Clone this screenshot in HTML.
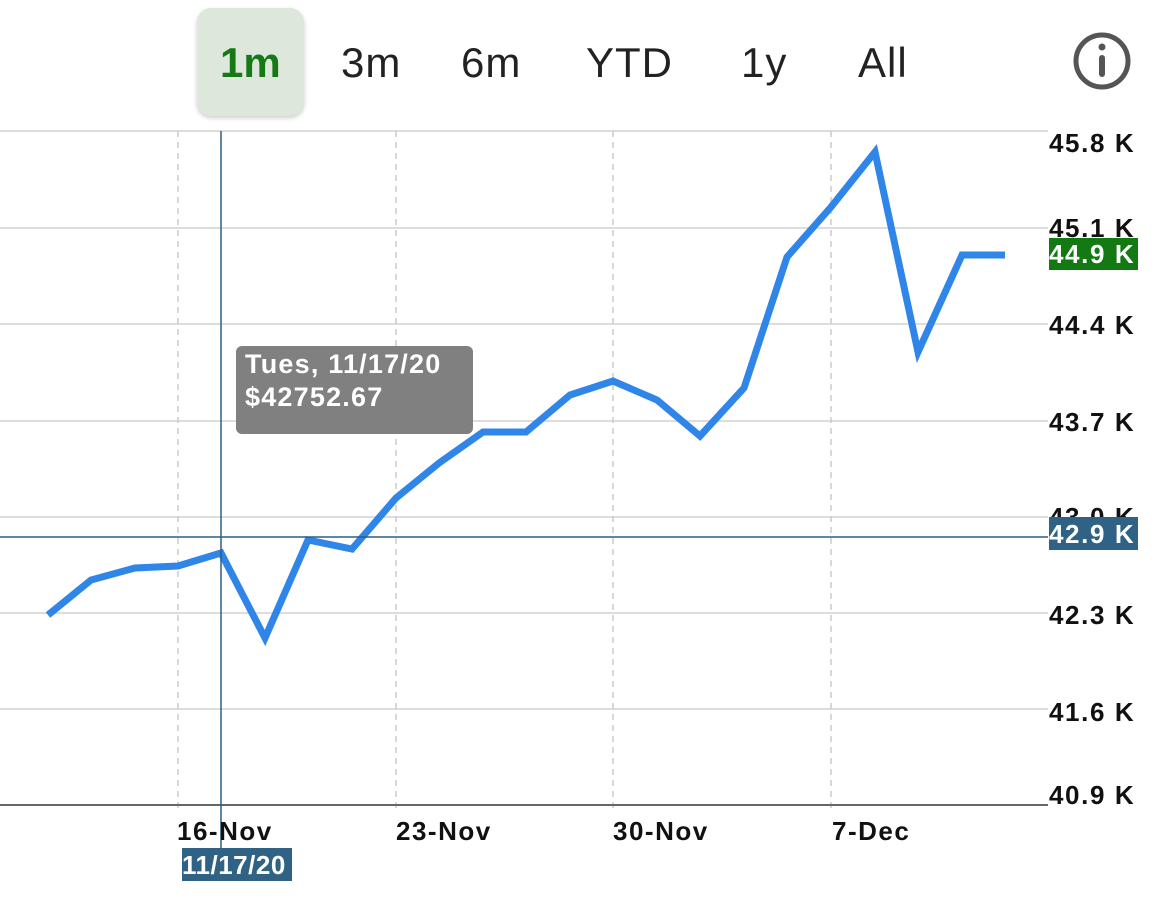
<!DOCTYPE html>
<html><head><style>
body{margin:0;width:1156px;height:902px;background:#fff;overflow:hidden;font-family:"Liberation Sans",Arial,sans-serif;position:relative}
.t{position:absolute;font-size:42px;color:#222;top:39px;letter-spacing:1px}
.yl{position:absolute;left:1049px;font-size:26px;font-weight:bold;color:#111;line-height:30px;letter-spacing:1.6px;white-space:nowrap}
.xl{position:absolute;top:816px;font-size:26px;font-weight:bold;color:#111;letter-spacing:1.5px}
</style></head><body>
<div style="position:absolute;left:197px;top:8px;width:107px;height:108px;background:#dde7dc;border-radius:14px;box-shadow:0 2px 5px rgba(0,0,0,.2)"></div>
<div class="t" style="left:220px;color:#157a15;font-weight:bold;letter-spacing:0">1m</div>
<div class="t" style="left:341px">3m</div>
<div class="t" style="left:461px">6m</div>
<div class="t" style="left:586px">YTD</div>
<div class="t" style="left:741px">1y</div>
<div class="t" style="left:858px">All</div>
<svg width="1156" height="902" style="position:absolute;left:0;top:0">
<circle cx="1102" cy="61" r="26" fill="none" stroke="#555" stroke-width="5"/>
<circle cx="1102" cy="47" r="3.5" fill="#555"/>
<rect x="1099" y="55" width="6" height="22" rx="3" fill="#555"/>
<g stroke="#ddd" stroke-width="2">
<line x1="0" y1="131" x2="1048" y2="131"/><line x1="0" y1="228" x2="1048" y2="228"/>
<line x1="0" y1="324" x2="1048" y2="324"/><line x1="0" y1="421" x2="1048" y2="421"/>
<line x1="0" y1="517" x2="1048" y2="517"/><line x1="0" y1="613" x2="1048" y2="613"/>
<line x1="0" y1="709" x2="1048" y2="709"/>
</g>
<g stroke="#ccc" stroke-width="1.5" stroke-dasharray="6,5">
<line x1="178" y1="131" x2="178" y2="812"/><line x1="396" y1="131" x2="396" y2="812"/>
<line x1="613" y1="131" x2="613" y2="812"/><line x1="831" y1="131" x2="831" y2="812"/>
</g>
<line x1="0" y1="805" x2="1048" y2="805" stroke="#666" stroke-width="2"/>
<polyline fill="none" stroke="#2f86e8" stroke-width="7" stroke-linejoin="miter"
points="48,615 91,580 135,568 178,566 221,553 265,638 308,540 352,549 396,498 439,463 483,432 526,432 570,395 613,381 657,400 700,436 744,388 787,257 831,207 875,152 918,352 962,255 1005,255"/>
<line x1="221" y1="131" x2="221" y2="880" stroke="#2d5f82" stroke-width="1.5"/>
<line x1="0" y1="537" x2="1048" y2="537" stroke="#2d5f82" stroke-width="1.5"/>
<rect x="236" y="346" width="237" height="88" rx="6" fill="#808080"/>
<text x="245" y="373" font-size="27" font-weight="bold" fill="#fff" font-family="Liberation Sans" letter-spacing="1.2">Tues, 11/17/20</text>
<text x="245" y="406" font-size="27" font-weight="bold" fill="#fff" font-family="Liberation Sans" letter-spacing="1.2">$42752.67</text>
</svg>
<div class="yl" style="top:128px">45.8 K</div>
<div class="yl" style="top:213px">45.1 K</div>
<div class="yl" style="top:310px">44.4 K</div>
<div class="yl" style="top:407px">43.7 K</div>
<div class="yl" style="top:502px">43.0 K</div>
<div class="yl" style="top:600px">42.3 K</div>
<div class="yl" style="top:697px">41.6 K</div>
<div class="yl" style="top:780px">40.9 K</div>
<div class="yl" style="top:238px;height:32px;line-height:33px;width:89px;background:#137a13;color:#fff">44.9 K</div>
<div class="yl" style="top:517px;height:33px;line-height:34px;width:89px;background:#2f6284;color:#fff">42.9 K</div>
<div class="xl" style="left:177px">16-Nov</div>
<div class="xl" style="left:396px">23-Nov</div>
<div class="xl" style="left:613px">30-Nov</div>
<div class="xl" style="left:832px">7-Dec</div>
<div style="position:absolute;left:182px;top:848px;width:110px;height:33px;background:#2f6284;color:#fff;font-size:26px;font-weight:bold;line-height:34px;letter-spacing:0.5px;white-space:nowrap;overflow:hidden">11/17/20</div>
</body></html>
